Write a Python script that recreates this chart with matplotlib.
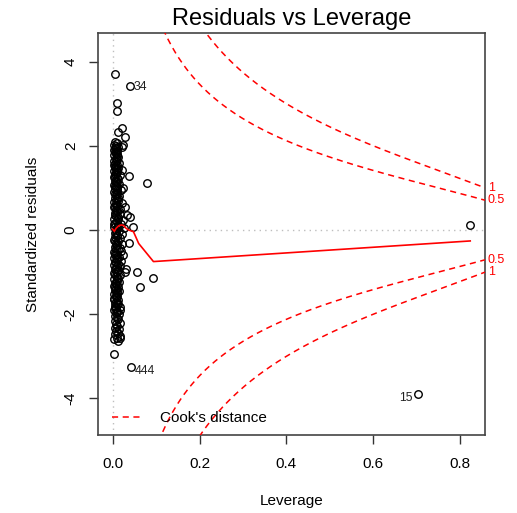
import numpy as np
import matplotlib.pyplot as plt

plt.rcParams['font.family'] = ['Liberation Sans', 'DejaVu Sans']

# main cluster of observations (leverage, standardized residual)
res_core = [
    2.10, 2.06, 2.03, 2.00, 1.97, 1.94, 1.90, 1.87, 1.84, 1.80,
    1.77, 1.74, 1.70, 1.67, 1.64, 1.60, 1.57, 1.54, 1.50, 1.47,
    1.44, 1.40, 1.37, 1.34, 1.30, 1.27, 1.24, 1.20, 1.17, 1.14,
    1.10, 1.07, 1.04, 1.00, 0.97, 0.94, 0.90, 0.87, 0.84, 0.80,
    0.77, 0.74, 0.70, 0.67, 0.64, 0.60, 0.57, 0.54, 0.50, 0.47,
    0.44, 0.40, 0.37, 0.34, 0.30, 0.27, 0.24, 0.20, 0.17, 0.14,
    0.10, 0.07, 0.04, 0.00, -0.03, -0.06, -0.10, -0.13, -0.16, -0.20,
    -0.23, -0.26, -0.30, -0.33, -0.36, -0.40, -0.43, -0.46, -0.50, -0.53,
    -0.56, -0.60, -0.63, -0.66, -0.70, -0.73, -0.76, -0.80, -0.83, -0.86,
    -0.90, -0.93, -0.96, -1.00, -1.03, -1.06, -1.10, -1.13, -1.16, -1.20,
    -1.23, -1.26, -1.30, -1.33, -1.36, -1.40, -1.43, -1.46, -1.50, -1.53,
    -1.56, -1.60, -1.63, -1.66, -1.70, -1.73, -1.76, -1.80, -1.83, -1.86,
    -1.90, -1.93, -1.96, -2.00, -2.04, -2.08, -2.12, -2.16, -2.20, -2.24,
    -2.28, -2.32, -2.36, -2.40, -2.44, -2.48, -2.52, -2.56, -2.60, -2.64,
    1.95, 1.85, 1.75, 1.65, 1.55, 1.45, 1.35, 1.25, 1.15, 1.05,
    0.95, 0.85, 0.75, 0.65, 0.55, 0.45, 0.35, 0.25, 0.15, 0.05,
    -0.05, -0.15, -0.25, -0.35, -0.45, -0.55, -0.65, -0.75, -0.85, -0.95,
    -1.05, -1.15, -1.25, -1.35, -1.45, -1.55, -1.65, -1.75, -1.85, -1.95,
]
lev_core = [
    0.005, 0.010, 0.003, 0.008, 0.013, 0.006, 0.004, 0.011, 0.007, 0.009,
    0.004, 0.012, 0.007, 0.010, 0.003, 0.015, 0.006, 0.009, 0.005, 0.013,
    0.008, 0.004, 0.011, 0.006, 0.017, 0.003, 0.009, 0.012, 0.005, 0.007,
    0.014, 0.004, 0.008, 0.011, 0.006, 0.019, 0.003, 0.010, 0.007, 0.015,
    0.005, 0.009, 0.012, 0.004, 0.022, 0.007, 0.010, 0.003, 0.016, 0.008,
    0.011, 0.005, 0.018, 0.007, 0.013, 0.004, 0.024, 0.009, 0.006, 0.020,
    0.012, 0.004, 0.027, 0.008, 0.015, 0.005, 0.021, 0.010, 0.006, 0.017,
    0.003, 0.013, 0.007, 0.022, 0.010, 0.005, 0.016, 0.008, 0.019, 0.004,
    0.011, 0.006, 0.014, 0.003, 0.009, 0.020, 0.007, 0.012, 0.004, 0.017,
    0.008, 0.005, 0.013, 0.010, 0.004, 0.016, 0.007, 0.011, 0.003, 0.009,
    0.014, 0.006, 0.010, 0.004, 0.012, 0.008, 0.005, 0.015, 0.009, 0.003,
    0.011, 0.007, 0.004, 0.013, 0.009, 0.005, 0.012, 0.006, 0.016, 0.008,
    0.004, 0.011, 0.007, 0.014, 0.005, 0.009, 0.012, 0.006, 0.016, 0.008,
    0.011, 0.005, 0.015, 0.008, 0.012, 0.006, 0.017, 0.010, 0.004, 0.013,
    0.008, 0.005, 0.010, 0.007, 0.004, 0.011, 0.008, 0.005, 0.009, 0.006,
    0.009, 0.005, 0.012, 0.007, 0.005, 0.010, 0.006, 0.013, 0.004, 0.009,
    0.007, 0.011, 0.005, 0.008, 0.012, 0.006, 0.009, 0.005, 0.010, 0.013,
    0.006, 0.012, 0.008, 0.005, 0.010, 0.007, 0.004, 0.009, 0.006, 0.010,
]

# scattered observations away from the cluster
res_out = [3.71, 3.02, 2.82, 2.42, 2.34, 2.22, 2.02, 1.98, 1.43, 1.29,
           1.11, 1.00, 0.55, 0.36, 0.32, 0.08, -0.30, -0.60, -0.92, -0.99,
           -0.99, -1.15, -1.35, -1.90, -2.57, -2.94, 0.12]
lev_out = [0.006, 0.010, 0.009, 0.022, 0.012, 0.029, 0.025, 0.022, 0.022, 0.037,
           0.080, 0.023, 0.029, 0.033, 0.041, 0.048, 0.037, 0.025, 0.030, 0.057,
           0.029, 0.094, 0.064, 0.018, 0.018, 0.004, 0.822]

# labelled observations
ids = ['34', '444', '15']
res_id = [3.43, -3.25, -3.90]
lev_id = [0.039, 0.042, 0.703]

# smoothed red line
smooth_lev = [0.000, 0.004, 0.008, 0.014, 0.020, 0.025, 0.031, 0.037, 0.048, 0.060, 0.094, 0.823]
smooth_res = [0.02, -0.03, 0.04, 0.10, 0.12, 0.11, 0.04, 0.00, -0.04, -0.32, -0.75, -0.26]

# Cook's distance contours
cook_levels = [0.5, 1]
n_par = 6

xlim = (-0.0336, 0.857)
ylim = (-4.87, 4.68)

fig = plt.figure(figsize=(5.17, 5.13), dpi=100)
ax = fig.add_axes([98 / 517, (513 - 435) / 513, (485 - 98) / 517, (435 - 33) / 513])

ax.axhline(0, color='#bebebe', lw=1, ls=(0, (1, 3)), zorder=1)
ax.axvline(0, color='#bebebe', lw=1, ls=(0, (1, 3)), zorder=1)

ax.plot(lev_core, res_core, 'o', mfc='none', mec='black', ms=5.4, mew=1.0, zorder=2)
ax.plot(lev_out, res_out, 'o', mfc='none', mec='black', ms=5.4, mew=1.0, zorder=2)
ax.plot(lev_id, res_id, 'o', mfc='none', mec='black', ms=5.4, mew=1.0, zorder=2)

ax.plot(smooth_lev, smooth_res, color='red', lw=1.2, zorder=3)

hh = np.linspace(0.005, xlim[1], 300)
for c in cook_levels:
    yy = np.sqrt(c * n_par * (1 - hh) / hh)
    ax.plot(hh, yy, color='red', lw=1.1, ls=(0, (4, 3)), zorder=3)
    ax.plot(hh, -yy, color='red', lw=1.1, ls=(0, (4, 3)), zorder=3)
    yend = np.sqrt(c * n_par * (1 - xlim[1]) / xlim[1])
    lab = '1' if c == 1 else str(c)
    for s in (1, -1):
        ax.annotate(lab, xy=(xlim[1], s * yend), xytext=(2, 0),
                    textcoords='offset points', color='red', fontsize=9,
                    ha='left', va='center', annotation_clip=False)

# point labels
ax.annotate(ids[0], xy=(lev_id[0], res_id[0]), xytext=(3, -1), textcoords='offset points',
            fontsize=8.8, ha='left', va='center', color='#222222')
ax.annotate(ids[1], xy=(lev_id[1], res_id[1]), xytext=(3, -3), textcoords='offset points',
            fontsize=8.8, ha='left', va='center', color='#222222')
ax.annotate(ids[2], xy=(lev_id[2], res_id[2]), xytext=(-4, -3), textcoords='offset points',
            fontsize=8.8, ha='right', va='center', color='#222222')

ax.set_xlim(xlim)
ax.set_ylim(ylim)
ax.set_xticks([0.0, 0.2, 0.4, 0.6, 0.8])
ax.set_xticklabels(['0.0', '0.2', '0.4', '0.6', '0.8'])
ax.set_yticks([-4, -2, 0, 2, 4])
ax.set_yticklabels(['-4', '-2', '0', '2', '4'], rotation=90, va='center')
ax.tick_params(direction='out', length=6.5, width=1, labelsize=11, colors='#333333')
ax.tick_params(axis='x', pad=9, labelcolor='black')
ax.tick_params(axis='y', pad=8, labelcolor='black')
for sp in ax.spines.values():
    sp.set_color('#444444')
    sp.set_linewidth(1.2)

ax.set_xlabel('Leverage', fontsize=11, labelpad=17)
ax.set_ylabel('Standardized residuals', fontsize=11, labelpad=17)
ax.set_title('Residuals vs Leverage', fontsize=17, pad=6)

ax.legend(handles=[plt.Line2D([], [], color='red', lw=1.1, ls=(0, (4, 3)))],
          labels=["Cook's distance"], loc='lower left', bbox_to_anchor=(0.035, 0.025),
          frameon=False, fontsize=11, handlelength=2.0, handletextpad=1.2,
          borderpad=0, borderaxespad=0)

plt.savefig('out.png', dpi=100)
